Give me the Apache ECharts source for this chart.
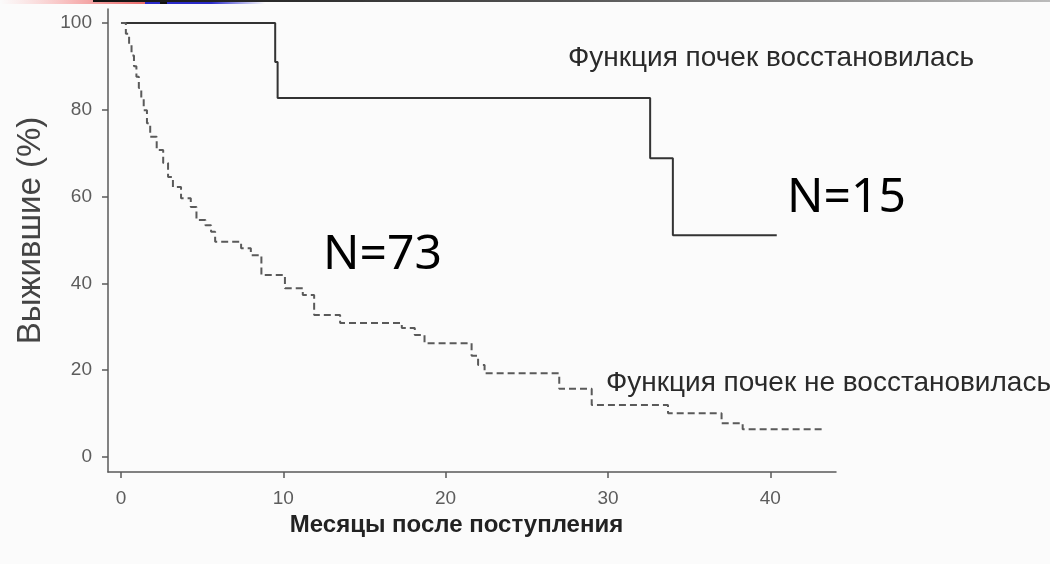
<!DOCTYPE html>
<html>
<head>
<meta charset="utf-8">
<script src="https://cdn.jsdelivr.net/npm/echarts@6/dist/echarts.min.js"></script>
<style>
  html, body { margin: 0; padding: 0; background: #fbfbfb; }
  #chart { width: 1050px; height: 564px; }
</style>
</head>
<body>
<div id="chart"></div>
<script>
// Kaplan–Meier survival after admission, by recovery of kidney function
const xTicks = [0, 10, 20, 30, 40];
const yTicks = [0, 20, 40, 60, 80, 100];

// Kidney function recovered (N=15)
const recoveredMonths   = [0, 9.5, 9.65, 32.6, 34.0, 40.4];
const recoveredSurvival = [100, 91.0, 82.7, 68.8, 51.1, 51.1];

// Kidney function not recovered (N=73)
const notRecoveredMonths = [0, 0.3, 0.5, 0.65, 0.8, 0.95, 1.1, 1.25, 1.4, 1.6, 1.8, 2.2, 2.6, 2.9, 3.2, 3.7,
  4.3, 4.65, 5.2, 5.55, 5.8, 7.4, 8.0, 8.65, 10.1, 11.2, 11.9, 13.5, 17.3, 18.1, 18.7, 21.6, 22.0, 22.4,
  27.0, 29.0, 33.7, 37.0, 38.3, 43.2];
const notRecoveredSurvival = [100, 97.5, 95, 92.5, 90, 87.6, 85, 82.5, 79.9, 76.9, 73.8, 70.7, 67.7, 64.5, 62.2, 59.6,
  57.6, 54.6, 53.4, 51.9, 49.6, 48.1, 46.5, 41.9, 38.9, 37.3, 32.7, 30.9, 29.7, 28.1, 26.2, 23.3, 21.2, 19.3,
  15.7, 12.0, 10.1, 7.8, 6.4, 6.4];

const labelRecovered = 'Функция почек восстановилась';
const labelNotRecovered = 'Функция почек не восстановилась';
const nRecovered = 'N=15';
const nNotRecovered = 'N=73';
const xTitle = 'Месяцы после поступления';
const yTitle = 'Выжившие (%)';

const pairs = (xs, ys) => xs.map((x, i) => [x, ys[i]]);

const chart = echarts.init(document.getElementById('chart'), null, { renderer: 'canvas' });

const axisColor = '#5a5a5a';
const tickFont = { fontFamily: '"Liberation Sans Narrow", "Liberation Sans", sans-serif', fontSize: 19, color: '#5c5c5c' };
const sans = '"Liberation Sans", Arial, sans-serif';

chart.setOption({
  backgroundColor: '#fbfbfb',
  animation: false,
  grid: { left: 108, right: 214, top: 9, bottom: 92 },
  xAxis: {
    type: 'value',
    min: -0.8,
    max: 44.05,
    splitLine: { show: false },
    axisLine: { onZero: false, lineStyle: { color: axisColor, width: 1.5 } },
    axisTick: { customValues: xTicks, length: 6, lineStyle: { color: axisColor, width: 1.5 } },
    axisLabel: Object.assign({ customValues: xTicks, margin: 17 }, tickFont),
    name: xTitle,
    nameLocation: 'middle',
    nameGap: 34,
    nameTextStyle: { fontFamily: sans, fontWeight: 'bold', fontSize: 24, color: '#222', padding: [0, 31, 0, 0] }
  },
  yAxis: {
    type: 'value',
    min: -3.45,
    max: 103.2,
    splitLine: { show: false },
    axisLine: { onZero: false, lineStyle: { color: axisColor, width: 1.5 } },
    axisTick: { customValues: yTicks, length: 6, lineStyle: { color: axisColor, width: 1.5 } },
    axisLabel: Object.assign({ customValues: yTicks, margin: 16 }, tickFont),
    name: yTitle,
    nameLocation: 'middle',
    nameGap: 61,
    nameRotate: 90,
    nameTextStyle: { fontFamily: sans, fontSize: 33, color: '#444', padding: [0, 0, 0, 20] }
  },
  series: [
    {
      name: labelRecovered,
      type: 'line',
      step: 'end',
      showSymbol: false,
      data: pairs(recoveredMonths, recoveredSurvival),
      lineStyle: { color: '#333', width: 2 }
    },
    {
      name: labelNotRecovered,
      type: 'line',
      step: 'end',
      showSymbol: false,
      data: pairs(notRecoveredMonths, notRecoveredSurvival),
      lineStyle: { color: '#5a5a5a', width: 2, type: [7, 4] }
    }
  ],
  graphic: [
    // slide header strip
    { type: 'rect', left: 0, top: 0, shape: { width: 145, height: 4 },
      style: { fill: new echarts.graphic.LinearGradient(0, 0, 1, 0, [
        { offset: 0, color: 'rgba(250,200,200,0)' }, { offset: 0.5, color: '#f7b8b8' }, { offset: 1, color: '#e86a6a' }]) } },
    { type: 'rect', left: 145, top: 0, shape: { width: 120, height: 4 },
      style: { fill: new echarts.graphic.LinearGradient(0, 0, 1, 0, [
        { offset: 0, color: '#2a2ac8' }, { offset: 0.55, color: '#2a2ac8' }, { offset: 1, color: 'rgba(60,60,220,0)' }]) } },
    { type: 'rect', left: 160, top: 0, shape: { width: 7, height: 4 }, style: { fill: '#111' } },
    { type: 'rect', left: 93, top: 0, shape: { width: 957, height: 2 },
      style: { fill: new echarts.graphic.LinearGradient(0, 0, 1, 0, [
        { offset: 0, color: '#111' }, { offset: 0.5, color: '#555' }, { offset: 1, color: '#bbb' }]) } },
    // curve labels
    { type: 'text', left: 568, top: 44,
      style: { text: labelRecovered, fontFamily: sans, fontSize: 28, fill: '#2a2a2a' } },
    { type: 'text', left: 606, top: 369,
      style: { text: labelNotRecovered, fontFamily: sans, fontSize: 28, fill: '#2a2a2a' } },
    { type: 'text', left: 323, top: 231,
      style: { text: nNotRecovered, fontFamily: '"Noto Sans", sans-serif', fontSize: 48, fill: '#000' } },
    { type: 'text', left: 787, top: 174,
      style: { text: nRecovered, fontFamily: '"Noto Sans", sans-serif', fontSize: 48, fill: '#000' } }
  ]
});
</script>
</body>
</html>
